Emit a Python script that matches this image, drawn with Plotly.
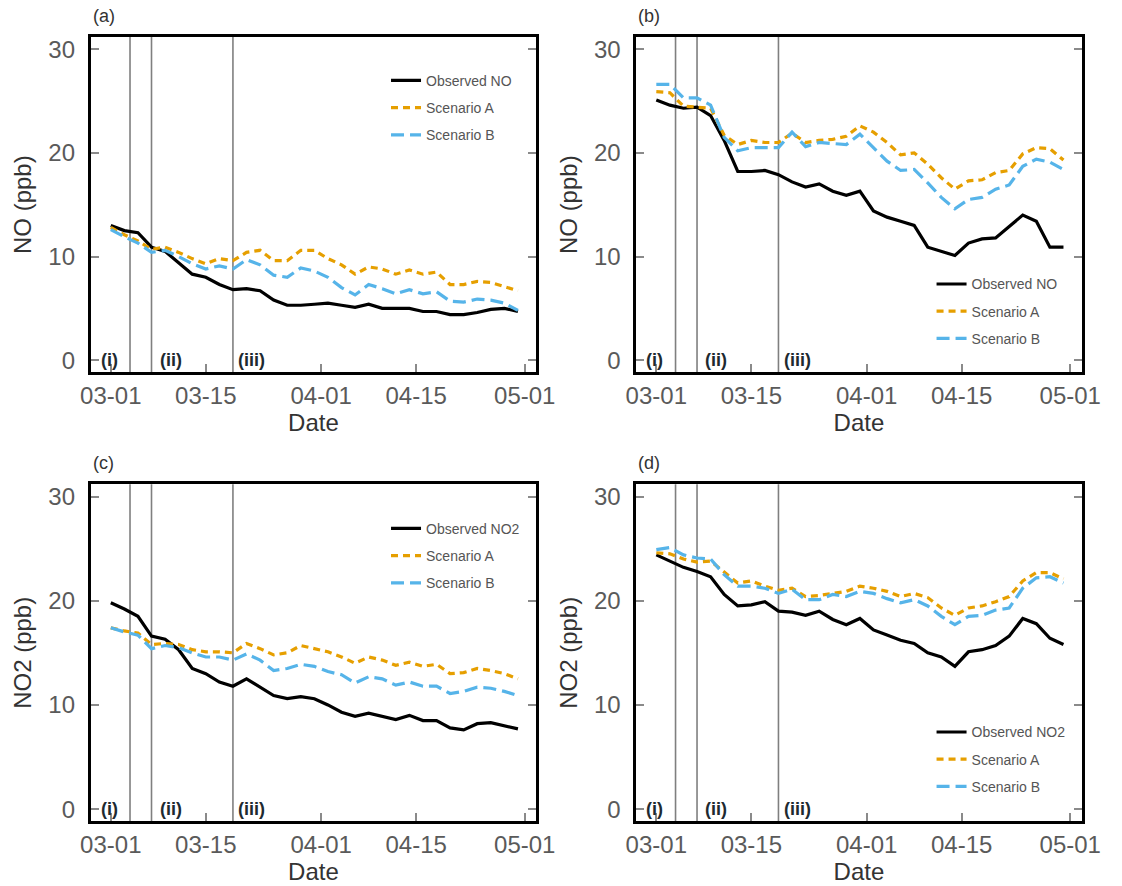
import pandas as pd
import plotly.graph_objects as go

# Daily-mean series sampled every two days, 2020-03-01 .. 2020-04-30
dates = pd.date_range("2020-03-01", "2020-04-30", freq="2D")

# (a) NO, site 1
a_obs = [13.0, 12.5, 12.3, 10.9, 10.5, 9.4, 8.3, 8.0, 7.3, 6.8, 6.9, 6.7, 5.8, 5.3, 5.3, 5.4,
         5.5, 5.3, 5.1, 5.4, 5.0, 5.0, 5.0, 4.7, 4.7, 4.4, 4.4, 4.6, 4.9, 5.0, 4.7]
a_scen_a = [12.8, 12.1, 11.5, 10.7, 10.9, 10.4, 9.8, 9.3, 9.8, 9.6, 10.4, 10.6, 9.6, 9.6, 10.6, 10.6,
            9.8, 9.2, 8.3, 9.0, 8.8, 8.3, 8.7, 8.3, 8.5, 7.3, 7.3, 7.6, 7.5, 7.1, 6.7]
a_scen_b = [12.6, 11.9, 11.3, 10.4, 10.6, 10.0, 9.3, 8.8, 9.1, 8.8, 9.7, 9.2, 8.2, 8.0, 8.9, 8.6,
            8.0, 7.0, 6.3, 7.3, 6.9, 6.4, 6.8, 6.4, 6.6, 5.7, 5.6, 5.9, 5.8, 5.5, 4.8]

# (b) NO, site 2
b_obs = [25.1, 24.6, 24.3, 24.4, 23.6, 21.2, 18.2, 18.2, 18.3, 17.9, 17.2, 16.7, 17.0, 16.3, 15.9, 16.3,
         14.4, 13.8, 13.4, 13.0, 10.9, 10.5, 10.1, 11.3, 11.7, 11.8, 12.9, 14.0, 13.4, 10.9, 10.9]
b_scen_a = [25.9, 25.8, 24.5, 24.4, 24.3, 21.7, 20.8, 21.2, 21.0, 21.0, 21.9, 21.0, 21.2, 21.3, 21.6, 22.6,
            22.0, 21.0, 19.8, 20.0, 18.9, 17.6, 16.5, 17.3, 17.4, 18.1, 18.3, 19.9, 20.5, 20.4, 19.3]
b_scen_b = [26.6, 26.6, 25.3, 25.3, 24.6, 21.5, 20.2, 20.5, 20.5, 20.5, 22.0, 20.6, 21.0, 20.9, 20.8, 21.8,
            20.5, 19.2, 18.3, 18.4, 17.1, 15.7, 14.6, 15.5, 15.7, 16.5, 16.9, 18.7, 19.4, 19.1, 18.4]

# (c) NO2, site 1
c_obs = [19.8, 19.2, 18.5, 16.6, 16.3, 15.3, 13.5, 13.0, 12.2, 11.8, 12.5, 11.7, 10.9, 10.6, 10.8, 10.6,
         10.0, 9.3, 8.9, 9.2, 8.9, 8.6, 9.0, 8.5, 8.5, 7.8, 7.6, 8.2, 8.3, 8.0, 7.7]
c_scen_a = [17.4, 17.1, 16.9, 15.8, 15.9, 15.8, 15.3, 15.1, 15.1, 15.0, 15.9, 15.4, 14.8, 15.0, 15.7, 15.4,
            15.1, 14.6, 14.0, 14.6, 14.3, 13.8, 14.1, 13.7, 13.9, 13.0, 13.1, 13.5, 13.3, 13.0, 12.5]
c_scen_b = [17.4, 17.0, 16.7, 15.4, 15.7, 15.5, 15.0, 14.6, 14.6, 14.3, 14.9, 14.3, 13.3, 13.5, 13.9, 13.7,
            13.2, 12.9, 12.1, 12.7, 12.5, 11.9, 12.2, 11.8, 11.8, 11.1, 11.3, 11.7, 11.6, 11.3, 10.9]

# (d) NO2, site 2
d_obs = [24.4, 23.8, 23.2, 22.8, 22.3, 20.6, 19.5, 19.6, 19.9, 19.0, 18.9, 18.6, 19.0, 18.2, 17.7, 18.3,
         17.2, 16.7, 16.2, 15.9, 15.0, 14.6, 13.7, 15.1, 15.3, 15.7, 16.6, 18.3, 17.8, 16.4, 15.8]
d_scen_a = [24.6, 24.5, 24.0, 23.7, 23.8, 22.7, 21.7, 21.9, 21.4, 21.0, 21.2, 20.4, 20.5, 20.7, 20.9, 21.4,
            21.2, 20.9, 20.4, 20.7, 20.3, 19.3, 18.6, 19.3, 19.5, 19.9, 20.4, 21.9, 22.7, 22.7, 22.1]
d_scen_b = [24.9, 25.1, 24.4, 24.1, 24.0, 22.5, 21.4, 21.4, 21.2, 20.7, 21.1, 20.1, 20.1, 20.6, 20.4, 20.9,
            20.7, 20.2, 19.8, 20.1, 19.5, 18.5, 17.7, 18.5, 18.6, 19.1, 19.3, 21.2, 22.2, 22.3, 21.7]

# Phase boundaries and phase labels
phase_breaks = ["2020-03-03 20:00", "2020-03-07 00:00", "2020-03-19 00:00"]
phase_labels = ["(i)", "(ii)", "(iii)"]
phase_label_dates = ["2020-02-29 18:00", "2020-03-09 20:00", "2020-03-21 19:00"]

tick_dates = ["2020-03-01", "2020-03-15", "2020-04-01", "2020-04-15", "2020-05-01"]
tick_text = ["03-01", "03-15", "04-01", "04-15", "05-01"]
x_range = ["2020-02-27 01:30", "2020-05-02 16:00"]
y_range = [-1.18, 31.18]
y_ticks = [0, 10, 20, 30]

panels = [
    dict(tag="(a)", species="NO", obs=a_obs, sa=a_scen_a, sb=a_scen_b),
    dict(tag="(b)", species="NO", obs=b_obs, sa=b_scen_a, sb=b_scen_b),
    dict(tag="(c)", species="NO2", obs=c_obs, sa=c_scen_a, sb=c_scen_b),
    dict(tag="(d)", species="NO2", obs=d_obs, sa=d_scen_a, sb=d_scen_b),
]

W, H = 1122, 886
# plot-frame boxes in pixels: (left, right, top, bottom)
boxes = [(83, 540, 36, 372.3), (643, 1100, 36, 372.3),
         (83, 540, 484.3, 822.3), (643, 1100, 484.3, 822.3)]
# legend placement (left, top) in pixels
legend_pos = [(386, 64), (946, 268), (386, 513), (946, 717)]

FONT = "Arial, Liberation Sans, sans-serif"
C_OBS, C_A, C_B = "#000000", "#E69F00", "#56B4E9"

fig = go.Figure()
layout = dict(width=W, height=H, margin=dict(l=0, r=0, t=0, b=0),
              paper_bgcolor="white", plot_bgcolor="white",
              font=dict(family=FONT), showlegend=True)
shapes, annotations = [], []

for i, p in enumerate(panels):
    n = "" if i == 0 else str(i + 1)
    xa, ya = "x" + n, "y" + n
    leg = "legend" + n
    L, R, T, B = boxes[i]

    series = [
        (p["obs"], "Observed " + p["species"], dict(color=C_OBS, width=3.2)),
        (p["sa"], "Scenario A", dict(color=C_A, width=3.2, dash="7px,5px")),
        (p["sb"], "Scenario B", dict(color=C_B, width=3.2, dash="13px,6px")),
    ]
    for k, (vals, name, line) in enumerate(series):
        fig.add_trace(go.Scatter(
            x=dates, y=vals, mode="lines", name=name, line=line,
            xaxis=xa, yaxis=ya, legend=leg, legendgroup=f"{i}-{k}",
        ))

    layout["xaxis" + n] = dict(
        domain=[L / W, R / W], anchor=ya, type="date", range=x_range,
        tickvals=tick_dates, ticktext=tick_text, ticks="inside", ticklen=8,
        tickwidth=1.5, tickcolor="#8a8a8a", showline=True, linewidth=3,
        linecolor="black", mirror=True, showgrid=False, zeroline=False,
        tickfont=dict(size=24, color="#5a5a5a"), ticklabelstandoff=0,
        title=dict(text="Date", font=dict(size=24, color="#333333"), standoff=6),
    )
    layout["yaxis" + n] = dict(
        domain=[1 - B / H, 1 - T / H], anchor=xa, range=y_range,
        tickvals=y_ticks, ticks="inside", ticklen=8, tickwidth=1.5,
        tickcolor="#8a8a8a", showline=True, linewidth=3, linecolor="black",
        mirror="ticks", showgrid=False, zeroline=False,
        tickfont=dict(size=24, color="#5a5a5a"), ticklabelstandoff=8,
        title=dict(text=p["species"] + " (ppb)", font=dict(size=24, color="#333333"),
                   standoff=10),
    )
    lx, ly = legend_pos[i]
    layout[leg] = dict(
        x=lx / W, y=1 - ly / H, xanchor="left", yanchor="top",
        xref="paper", yref="paper", bgcolor="rgba(0,0,0,0)",
        traceorder="grouped", tracegroupgap=6,
        font=dict(size=14, color="#555555"),
    )

    for d in phase_breaks:
        shapes.append(dict(type="line", xref=xa, yref=ya + " domain",
                           x0=d, x1=d, y0=0, y1=1, layer="below",
                           line=dict(color="#7f7f7f", width=1.6)))
    for lab, d in zip(phase_labels, phase_label_dates):
        annotations.append(dict(text=f"<b>{lab}</b>", x=d, y=0, xref=xa, yref=ya,
                                showarrow=False, xanchor="center", yanchor="middle",
                                font=dict(size=18, color="#1e2a30")))
    annotations.append(dict(text=p["tag"], x=L / W, y=1 - (T - 21) / H,
                            xref="paper", yref="paper", showarrow=False,
                            xanchor="left", yanchor="middle",
                            font=dict(size=18, color="#333333")))

layout["shapes"] = shapes
layout["annotations"] = annotations
fig.update_layout(**layout)

fig.write_html("out.html")
